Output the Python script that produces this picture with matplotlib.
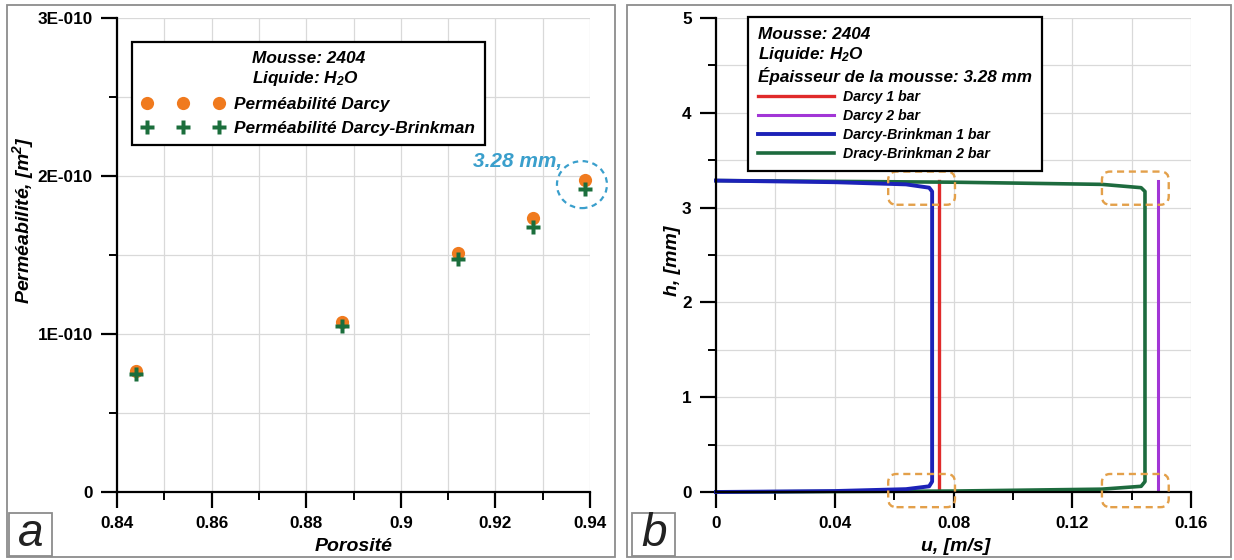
import numpy as np
import matplotlib
matplotlib.use("Agg")
import matplotlib.pyplot as plt
from matplotlib.patches import Rectangle, FancyBboxPatch, Ellipse
from matplotlib.ticker import MultipleLocator, FixedLocator, FixedFormatter
import matplotlib.transforms as mtransforms

# ---------------- data (panel a) ----------------
porosity = [0.844, 0.8875, 0.912, 0.928, 0.939]
perm_darcy = [0.767e-10, 1.076e-10, 1.511e-10, 1.732e-10, 1.974e-10]
perm_db = [0.744e-10, 1.049e-10, 1.473e-10, 1.676e-10, 1.917e-10]
perm_ticks = [0.0, 1e-10, 2e-10, 3e-10]
perm_ticklabels = ["0", "1E-010", "2E-010", "3E-010"]
por_ticks = [0.84, 0.86, 0.88, 0.90, 0.92, 0.94]
por_ticklabels = ["0.84", "0.86", "0.88", "0.9", "0.92", "0.94"]

# ---------------- data (panel b) ----------------
h_darcy = [0.0, 3.28]
u_darcy_1bar = [0.075, 0.075]
u_darcy_2bar = [0.149, 0.149]
h_db = [0.0, 0.01, 0.03, 0.06, 0.11, 3.17, 3.21, 3.245, 3.268, 3.285]
u_db_1bar = [0.0, 0.040, 0.064, 0.0718, 0.0728, 0.0728, 0.0718, 0.064, 0.040, 0.0]
u_db_2bar = [0.0, 0.080, 0.130, 0.1432, 0.1445, 0.1445, 0.1432, 0.130, 0.080, 0.0]
u_ticks = [0, 0.04, 0.08, 0.12, 0.16]
u_ticklabels = ["0", "0.04", "0.08", "0.12", "0.16"]
h_ticks = [0, 1, 2, 3, 4, 5]

plt.rcParams["font.family"] = ["Liberation Sans", "DejaVu Sans"]
plt.rcParams["font.weight"] = "bold"
plt.rcParams["mathtext.fontset"] = "custom"
plt.rcParams["mathtext.rm"] = "Liberation Sans:italic:bold"
plt.rcParams["mathtext.it"] = "Liberation Sans:italic:bold"
plt.rcParams["mathtext.bf"] = "Liberation Sans:italic:bold"

W, H = 1234, 560
fig = plt.figure(figsize=(W / 100, H / 100), dpi=100)

def fx(px):
    return px / W

def fy(py):
    return 1 - py / H

# panel frames
for x0, x1 in [(7, 615), (627, 1231)]:
    fig.patches.append(Rectangle((fx(x0), fy(557)), fx(x1 - x0), (557 - 5) / H,
                                 transform=fig.transFigure, fill=False,
                                 edgecolor="#8c8c8c", lw=1.3, zorder=0))

grid_c = "#d9d9d9"
tick_fs = 12.3
lab_fs = 14

def style_axes(ax):
    for s in ["top", "right"]:
        ax.spines[s].set_visible(False)
    for s in ["left", "bottom"]:
        ax.spines[s].set_linewidth(1.6)
        ax.spines[s].set_zorder(6)
    ax.tick_params(which="major", direction="out", length=11.5, width=1.6,
                   labelsize=tick_fs, pad=6)
    ax.tick_params(which="minor", direction="out", length=5.8, width=1.4)
    ax.grid(True, which="both", color=grid_c, lw=0.9, zorder=0)
    ax.set_axisbelow(True)

# ---------------- panel a ----------------
axa = fig.add_axes([fx(117), fy(492), fx(590 - 117), (492 - 18) / H])
axa.set_xlim(0.84, 0.94)
axa.set_ylim(0, 3e-10)
axa.xaxis.set_major_locator(FixedLocator(por_ticks))
axa.xaxis.set_major_formatter(FixedFormatter(por_ticklabels))
axa.xaxis.set_minor_locator(MultipleLocator(0.01))
axa.yaxis.set_major_locator(FixedLocator(perm_ticks))
axa.yaxis.set_major_formatter(FixedFormatter(perm_ticklabels))
axa.yaxis.set_minor_locator(MultipleLocator(0.5e-10))
style_axes(axa)

orange = "#f07a1e"
dgreen = "#1b6e3c"
axa.plot(porosity, perm_darcy, "o", color=orange, ms=9.5, mec="none",
         label="Perméabilité Darcy", zorder=4, clip_on=False)
axa.plot(porosity, perm_db, "P", color=dgreen, ms=10, mec="none",
         label="Perméabilité Darcy-Brinkman", zorder=5, clip_on=False)

axa.set_xlabel("Porosité", fontsize=lab_fs, fontweight="bold", style="italic",
               va="center")
axa.set_ylabel("Perméabilité, [m$^2$]", fontsize=lab_fs, fontweight="bold",
               style="italic", va="center")
axa.xaxis.set_label_coords(0.5, -0.116)
axa.yaxis.set_label_coords(-0.198, 0.574)

leg_a = axa.legend(title="Mousse: 2404\nLiquide: H$_2$O", numpoints=3,
                   loc="upper left", bbox_to_anchor=(fx(132), fy(42)),
                   bbox_transform=fig.transFigure, borderaxespad=0,
                   frameon=True, fancybox=False, edgecolor="black",
                   framealpha=1, handlelength=4.8, handletextpad=0.6,
                   borderpad=0.55, labelspacing=0.5,
                   prop={"size": 12.4, "weight": "bold", "style": "italic"},
                   title_fontproperties={"size": 12.4, "weight": "bold", "style": "italic"})
leg_a.get_frame().set_linewidth(1.6)
leg_a.set_zorder(10)

# highlight of the 3.28 mm foam
blue_ann = "#3a9fcc"
trans = fig.dpi_scale_trans + mtransforms.ScaledTranslation(
    porosity[-1] - 0.0007, (perm_darcy[-1] + perm_db[-1]) / 2, axa.transData)
axa.add_patch(Ellipse((0, 0), 0.5, 0.47, transform=trans, fill=False,
                      edgecolor=blue_ann, lw=1.6, ls=(0, (2.5, 2)), clip_on=False,
                      zorder=6))
axa.annotate("3.28 mm,", xy=(porosity[-1], perm_darcy[-1]),
             xytext=(-112, 19), textcoords="offset pixels",
             fontsize=15, fontweight="bold", style="italic", color=blue_ann,
             va="center", ha="left")

# ---------------- panel b ----------------
axb = fig.add_axes([fx(716), fy(492), fx(1191 - 716), (492 - 18) / H])
axb.set_xlim(0, 0.16)
axb.set_ylim(0, 5)
axb.xaxis.set_major_locator(FixedLocator(u_ticks))
axb.xaxis.set_major_formatter(FixedFormatter(u_ticklabels))
axb.xaxis.set_minor_locator(MultipleLocator(0.02))
axb.yaxis.set_major_locator(FixedLocator(h_ticks))
axb.yaxis.set_minor_locator(MultipleLocator(0.5))
style_axes(axb)

axb.plot(u_darcy_1bar, h_darcy, color="#e02a2a", lw=2.4, label="Darcy 1 bar", zorder=3)
axb.plot(u_darcy_2bar, h_darcy, color="#a236d6", lw=2.2, label="Darcy 2 bar", zorder=3)
axb.plot(u_db_1bar, h_db, color="#1c22b8", lw=2.8, label="Darcy-Brinkman 1 bar",
         zorder=5, clip_on=False)
axb.plot(u_db_2bar, h_db, color="#1d6b3e", lw=2.6, label="Dracy-Brinkman 2 bar",
         zorder=4, clip_on=False)

axb.set_xlabel("u, [m/s]", fontsize=lab_fs, fontweight="bold", style="italic",
               va="center")
axb.set_ylabel("h, [mm]", fontsize=lab_fs, fontweight="bold", style="italic",
               va="center")
axb.xaxis.set_label_coords(0.504, -0.116)
axb.yaxis.set_label_coords(-0.092, 0.487)

leg_b = axb.legend(title="Mousse: 2404\nLiquide: H$_2$O\nÉpaisseur de la mousse: 3.28 mm",
                   loc="upper left", bbox_to_anchor=(fx(748), fy(17)),
                   bbox_transform=fig.transFigure, borderaxespad=0,
                   frameon=True, fancybox=False, edgecolor="black",
                   framealpha=1, handlelength=5.4, handletextpad=0.6,
                   borderpad=0.7, labelspacing=0.36, alignment="left",
                   prop={"size": 10.2, "weight": "bold", "style": "italic"},
                   title_fontproperties={"size": 12.3, "weight": "bold", "style": "italic"})
leg_b.get_frame().set_linewidth(1.6)
leg_b.set_zorder(10)

# dashed orange zoom boxes
box_orange = "#e3a04a"
aspect = (5 / 474) / (0.16 / 475)
for bx, by in [(0.058, 3.03), (0.130, 3.03), (0.058, -0.16), (0.130, -0.16)]:
    axb.add_patch(FancyBboxPatch((bx, by), 0.0225, 0.35,
                                 boxstyle="round,pad=0,rounding_size=0.0028",
                                 mutation_aspect=aspect, fill=False,
                                 edgecolor=box_orange, lw=1.7, ls=(0, (3, 2)),
                                 clip_on=False, zorder=7))

# panel letters
for letter, x0 in [("a", 9), ("b", 632)]:
    fig.patches.append(Rectangle((fx(x0), fy(556)), fx(43), 43 / H,
                                 transform=fig.transFigure, facecolor="white",
                                 edgecolor="#8c8c8c", lw=1.3, zorder=1))
    fig.text(fx(x0 + 22), fy(534), letter, fontsize=33, style="italic",
             fontweight="normal", ha="center", va="center", color="#222222")

fig.savefig("out.png", dpi=100)
